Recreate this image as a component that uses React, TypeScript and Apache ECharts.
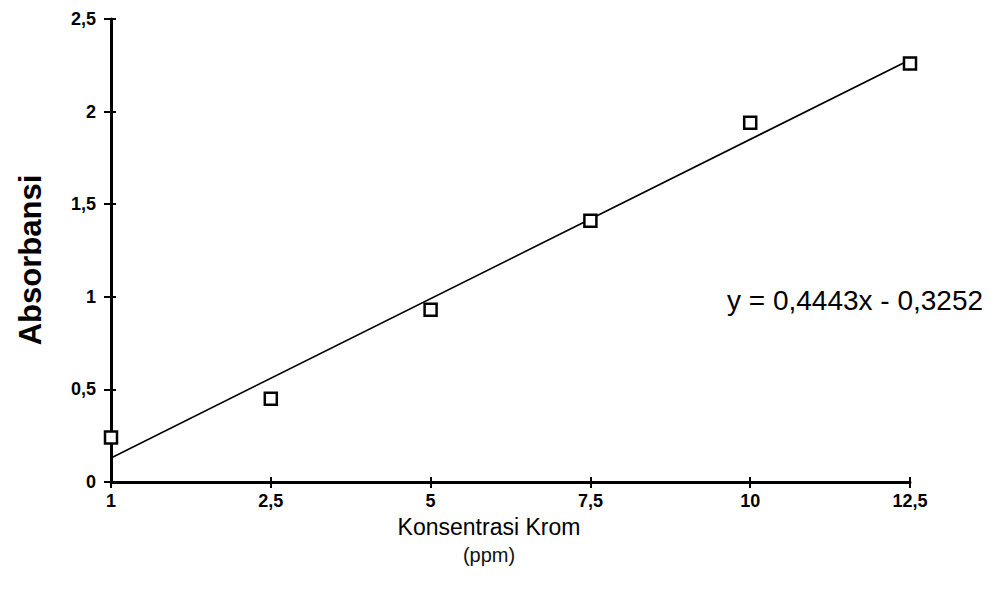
import React, { useEffect, useRef } from "react";
import * as echarts from "echarts";

const categories = ["1", "2,5", "5", "7,5", "10", "12,5"];
const absorbance = [0.24, 0.45, 0.93, 1.41, 1.94, 2.26];
const yTicks = { min: 0, max: 2.5, interval: 0.5 };
const equationText = "y = 0,4443x - 0,3252";

function fitLine(vals: number[]) {
  const n = vals.length;
  const xs = vals.map((_, i) => i);
  const mx = xs.reduce((a, b) => a + b, 0) / n;
  const my = vals.reduce((a, b) => a + b, 0) / n;
  let sxy = 0, sxx = 0;
  xs.forEach((x, i) => { sxy += (x - mx) * (vals[i] - my); sxx += (x - mx) * (x - mx); });
  const b = sxy / sxx;
  const a = my - b * mx;
  return [[0, a], [n - 1, a + b * (n - 1)]];
}

export default function App() {
  const ref = useRef<HTMLDivElement>(null);
  useEffect(() => {
    if (!ref.current) return;
    const chart = echarts.init(ref.current, undefined, { renderer: "svg" });
    const font = "Liberation Sans";
    const fmt = (v: number) => String(v).replace(".", ",");
    const axisLine = { show: true, lineStyle: { color: "#000", width: 3 } };
    chart.setOption({
      animation: false,
      backgroundColor: "#fff",
      grid: { left: 103, right: 82, top: 11, bottom: 99 },
      xAxis: [
        {
          type: "category",
          data: categories,
          boundaryGap: false,
          axisLine,
          axisTick: { show: true, length: 6, lineStyle: { color: "#000", width: 2 } },
          axisLabel: { color: "#000", fontFamily: font, fontWeight: "bold", fontSize: 18, margin: 10 },
          splitLine: { show: false },
        },
        {
          type: "category",
          data: categories,
          boundaryGap: false,
          position: "bottom",
          axisLine: { show: false },
          axisTick: { show: true, inside: true, length: 5, lineStyle: { color: "#000", width: 2 } },
          axisLabel: { show: false },
          splitLine: { show: false },
        },
      ],
      yAxis: [
        {
          type: "value",
          ...yTicks,
          axisLine,
          axisTick: { show: true, length: 7, lineStyle: { color: "#000", width: 2 } },
          axisLabel: { color: "#000", fontFamily: font, fontWeight: "bold", fontSize: 18, margin: 15, formatter: fmt },
          splitLine: { show: false },
        },
        {
          type: "value",
          ...yTicks,
          position: "left",
          axisLine: { show: false },
          axisTick: { show: true, inside: true, length: 5, lineStyle: { color: "#000", width: 2 } },
          axisLabel: { show: false },
          splitLine: { show: false },
        },
      ],
      series: [
        {
          type: "line",
          data: fitLine(absorbance),
          symbol: "none",
          lineStyle: { color: "#000", width: 1.6 },
          z: 2,
        },
        {
          type: "scatter",
          data: absorbance,
          symbol: "rect",
          symbolSize: 12,
          itemStyle: { color: "#fff", borderColor: "#000", borderWidth: 2.5, opacity: 1 },
          z: 3,
        },
      ],
      graphic: [
        {
          type: "text",
          x: 22,
          y: 252,
          rotation: Math.PI / 2,
          style: { text: "Absorbansi", fontFamily: font, fontSize: 31, fontWeight: "bold", fill: "#000", align: "center", verticalAlign: "middle" },
        },
        {
          type: "text",
          x: 481,
          y: 519,
          style: { text: "Konsentrasi Krom", fontFamily: font, fontSize: 23, fill: "#000", align: "center", verticalAlign: "middle" },
        },
        {
          type: "text",
          x: 481,
          y: 547,
          style: { text: "(ppm)", fontFamily: font, fontSize: 20, fill: "#111", align: "center", verticalAlign: "middle" },
        },
        {
          type: "text",
          x: 719,
          y: 292,
          style: { text: equationText, fontFamily: font, fontSize: 28, fill: "#000", align: "left", verticalAlign: "middle" },
        },
      ],
    });
    return () => chart.dispose();
  }, []);
  return <div ref={ref} style={{ width: 984, height: 573 }} />;
}
